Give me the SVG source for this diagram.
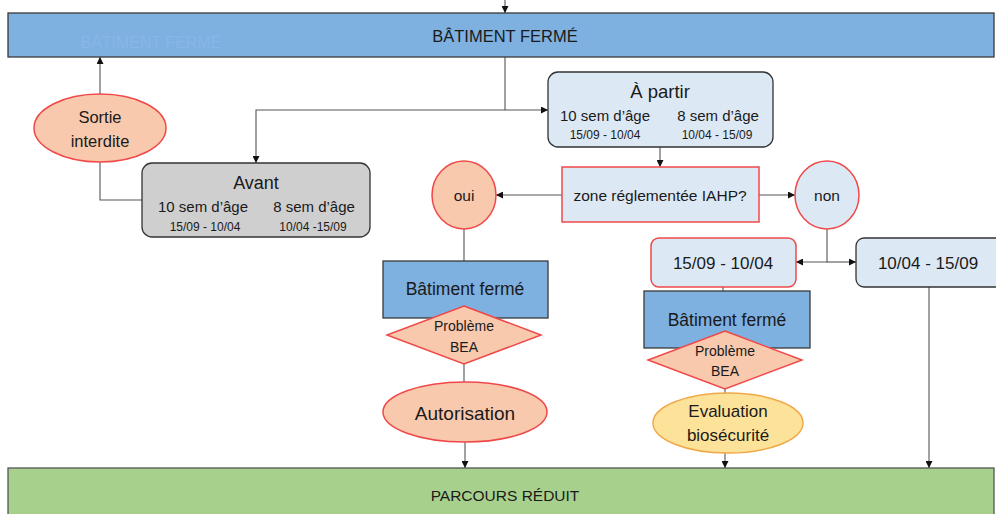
<svg xmlns="http://www.w3.org/2000/svg" width="996" height="514" viewBox="0 0 996 514">
<style>
text{font-family:"Liberation Sans",Arial,sans-serif;fill:#1a1a1a;text-anchor:middle;dominant-baseline:central}
.bar{fill:#7eb0e0;stroke:#3a3a3a;stroke-width:1.3}
.green{fill:#a8d08d;stroke:#555;stroke-width:1.3}
.lb{fill:#dde8f5}
.dk{stroke:#333;stroke-width:1.3}
.rd{stroke:#f04848;stroke-width:1.5}
.pe{fill:#f8c9ad}
.yl{fill:#fde39a;stroke:#f0a848;stroke-width:1.5}
.gr{fill:#d0cfcf}
.c{fill:none;stroke:#555;stroke-width:1.1}
</style>
<defs>
<marker id="a" viewBox="0 0 10 10" refX="10" refY="5" markerWidth="7" markerHeight="7" orient="auto" markerUnits="userSpaceOnUse"><path d="M0,0 L10,5 L0,10 z" fill="#111"/></marker>
</defs>
<g id="connectors">
<path class="c" d="M505,0 V13" marker-end="url(#a)"/>
<path class="c" d="M100,94 V57" marker-end="url(#a)"/>
<path class="c" d="M100,162 V200 H142"/>
<path class="c" d="M505,57 V110 H256 V163" marker-end="url(#a)"/>
<path class="c" d="M505,110 H548" marker-end="url(#a)"/>
<path class="c" d="M660,147 V167" marker-end="url(#a)"/>
<path class="c" d="M562,195 H496" marker-end="url(#a)"/>
<path class="c" d="M759,195 H795" marker-end="url(#a)"/>
<path class="c" d="M827,229 V262 H796" marker-end="url(#a)"/>
<path class="c" d="M827,262 H856" marker-end="url(#a)"/>
<path class="c" d="M723,287 V291"/>
<path class="c" d="M464,229 V261"/>
<path class="c" d="M464,364 V382"/>
<path class="c" d="M465,442 V468" marker-end="url(#a)"/>
<path class="c" d="M725,389 V393"/>
<path class="c" d="M725,453 V468" marker-end="url(#a)"/>
<path class="c" d="M929,287 V468" marker-end="url(#a)"/>
</g>
<g id="batiment-top">
<rect class="bar" x="8" y="13" width="986" height="44"/>
<text x="151" y="42" style="fill:#87b7e7;font-size:16px">BÂTIMENT FERMÉ</text>
<text x="505" y="36" style="font-size:16.5px">BÂTIMENT FERMÉ</text>
</g>
<g id="sortie">
<ellipse class="pe rd" cx="100" cy="128" rx="66" ry="34"/>
<text x="100" y="117" style="font-size:16.5px">Sortie</text>
<text x="100" y="141" style="font-size:16.5px">interdite</text>
</g>
<g id="avant">
<rect class="gr dk" x="142" y="163" width="228" height="74" rx="10"/>
<text x="256" y="183" style="font-size:18px">Avant</text>
<text x="203" y="206" style="font-size:15px">10 sem d’âge</text>
<text x="314" y="206" style="font-size:15px">8 sem d’âge</text>
<text x="205" y="227" style="font-size:12px">15/09 - 10/04</text>
<text x="313" y="227" style="font-size:12px">10/04 -15/09</text>
</g>
<g id="apartir">
<rect class="lb dk" x="548" y="72" width="225" height="75" rx="10"/>
<text x="660" y="91" style="font-size:18.5px">À partir</text>
<text x="605" y="115" style="font-size:15px">10 sem d’âge</text>
<text x="718" y="115" style="font-size:15px">8 sem d’âge</text>
<text x="605" y="135" style="font-size:12px">15/09 - 10/04</text>
<text x="717" y="135" style="font-size:12px">10/04 - 15/09</text>
</g>
<g id="zone">
<rect class="lb rd" x="562" y="167" width="197" height="55"/>
<text x="660" y="195" style="font-size:15.5px">zone réglementée IAHP?</text>
</g>
<g id="oui">
<ellipse class="pe rd" cx="464" cy="195" rx="32" ry="34"/>
<text x="464" y="195" style="font-size:15.5px">oui</text>
</g>
<g id="non">
<ellipse class="lb rd" cx="827" cy="195" rx="32" ry="34"/>
<text x="827" y="195" style="font-size:15.5px">non</text>
</g>
<g id="periode1">
<rect class="lb rd" x="651" y="238" width="145" height="49" rx="8"/>
<text x="723" y="263" style="font-size:17px">15/09 - 10/04</text>
</g>
<g id="periode2">
<rect class="lb dk" x="856" y="238" width="150" height="49" rx="8"/>
<text x="928" y="263" style="font-size:17px">10/04 - 15/09</text>
</g>
<g id="batiment-left">
<rect class="bar" x="383" y="261" width="165" height="57"/>
<text x="465" y="289" style="font-size:17.5px">Bâtiment fermé</text>
</g>
<g id="bea-left">
<polygon class="pe rd" points="464,306 541,335 464,364 387,335"/>
<text x="464" y="326" style="font-size:14px">Problème</text>
<text x="464" y="347" style="font-size:14px">BEA</text>
</g>
<g id="autorisation">
<ellipse class="pe rd" cx="465" cy="412" rx="82" ry="30"/>
<text x="465" y="413" style="font-size:19px">Autorisation</text>
</g>
<g id="batiment-right">
<rect class="bar" x="644" y="291" width="166" height="57"/>
<text x="727" y="320" style="font-size:17.5px">Bâtiment fermé</text>
</g>
<g id="bea-right">
<polygon class="pe rd" points="725,331 802,360 725,389 648,360"/>
<text x="725" y="351" style="font-size:14px">Problème</text>
<text x="725" y="371" style="font-size:14px">BEA</text>
</g>
<g id="evaluation">
<ellipse class="yl" cx="728" cy="423" rx="75" ry="30"/>
<text x="728" y="411" style="font-size:17px">Evaluation</text>
<text x="728" y="435" style="font-size:17px">biosécurité</text>
</g>
<g id="parcours">
<rect class="green" x="8" y="468" width="986" height="50"/>
<text x="505" y="495" style="font-size:15.5px">PARCOURS RÉDUIT</text>
</g>
</svg>
